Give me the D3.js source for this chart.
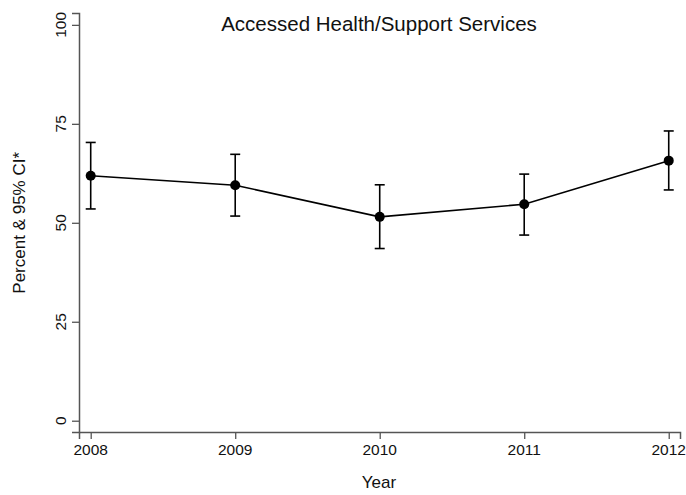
<!DOCTYPE html>
<html>
<head>
<meta charset="utf-8">
<script src="https://cdn.jsdelivr.net/npm/d3@7"></script>
<style>
  html, body { margin: 0; padding: 0; background: #fff; }
  svg { display: block; font-family: "Liberation Sans", Arial, Helvetica, sans-serif; }
</style>
</head>
<body>
<svg id="chart" width="686" height="495"></svg>
<script>
// ---- data ----
const years = [2008, 2009, 2010, 2011, 2012];
const percent = [61.9, 59.5, 51.5, 54.7, 65.7];
const ciLower = [53.5, 51.7, 43.5, 46.9, 58.3];
const ciUpper = [70.3, 67.3, 59.6, 62.3, 73.2];
const yTicks = [0, 25, 50, 75, 100];
const xTicks = [2008, 2009, 2010, 2011, 2012];
const title = "Accessed Health/Support Services";
const xTitle = "Year";
const yTitle = "Percent & 95% CI*";

const svg = d3.select("#chart");
const axisColor = "#555";

const x = d3.scaleLinear().domain([2007.919, 2012.078]).range([79, 680]);
const y = d3.scaleLinear().domain([-2.85, 103]).range([432, 13]);

// axes
const gx = svg.append("g").attr("transform", "translate(0,432)")
  .call(d3.axisBottom(x).tickValues(xTicks).tickSize(7).tickFormat(""));
const gy = svg.append("g").attr("transform", "translate(79,0)")
  .call(d3.axisLeft(y).tickValues(yTicks).tickSize(7).tickFormat(""));
[gx, gy].forEach(g => {
  g.select(".domain").attr("stroke", axisColor).attr("stroke-width", 1.5);
  g.selectAll(".tick line").attr("stroke", axisColor).attr("stroke-width", 1.3);
});

// x tick labels
svg.append("g").selectAll("text").data(xTicks).join("text")
  .attr("x", d => x(d)).attr("y", 455)
  .attr("text-anchor", "middle").attr("font-size", 15.5).attr("fill", "#111")
  .text(d => d);

// y tick labels (rotated)
svg.append("g").selectAll("text").data(yTicks).join("text")
  .attr("transform", d => `translate(66,${y(d)}) rotate(-90)`)
  .attr("text-anchor", "middle").attr("font-size", 15.5).attr("fill", "#111")
  .text(d => d);

// titles
svg.append("text").attr("x", 379).attr("y", 31).attr("text-anchor", "middle")
  .attr("font-size", 20.5).attr("fill", "#111").text(title);
svg.append("text").attr("x", 379).attr("y", 488).attr("text-anchor", "middle")
  .attr("font-size", 17).attr("fill", "#111").text(xTitle);
svg.append("text").attr("transform", `translate(25,${y(50)}) rotate(-90)`)
  .attr("text-anchor", "middle").attr("font-size", 17).attr("fill", "#111").text(yTitle);

const data = years.map((yr, i) => ({ yr, p: percent[i], lo: ciLower[i], hi: ciUpper[i] }));

// line
svg.append("path").datum(data)
  .attr("fill", "none").attr("stroke", "#000").attr("stroke-width", 1.6)
  .attr("d", d3.line().x(d => x(d.yr)).y(d => y(d.p)));

// error bars
const eb = svg.append("g").attr("stroke", "#000").attr("stroke-width", 1.6);
eb.selectAll(".v").data(data).join("line")
  .attr("x1", d => x(d.yr)).attr("x2", d => x(d.yr))
  .attr("y1", d => y(d.lo)).attr("y2", d => y(d.hi));
eb.selectAll(".top").data(data).join("line")
  .attr("x1", d => x(d.yr) - 5).attr("x2", d => x(d.yr) + 5)
  .attr("y1", d => y(d.hi)).attr("y2", d => y(d.hi));
eb.selectAll(".bot").data(data).join("line")
  .attr("x1", d => x(d.yr) - 5).attr("x2", d => x(d.yr) + 5)
  .attr("y1", d => y(d.lo)).attr("y2", d => y(d.lo));

// points
svg.append("g").selectAll("circle").data(data).join("circle")
  .attr("cx", d => x(d.yr)).attr("cy", d => y(d.p)).attr("r", 5)
  .attr("fill", "#000");
</script>
</body>
</html>
